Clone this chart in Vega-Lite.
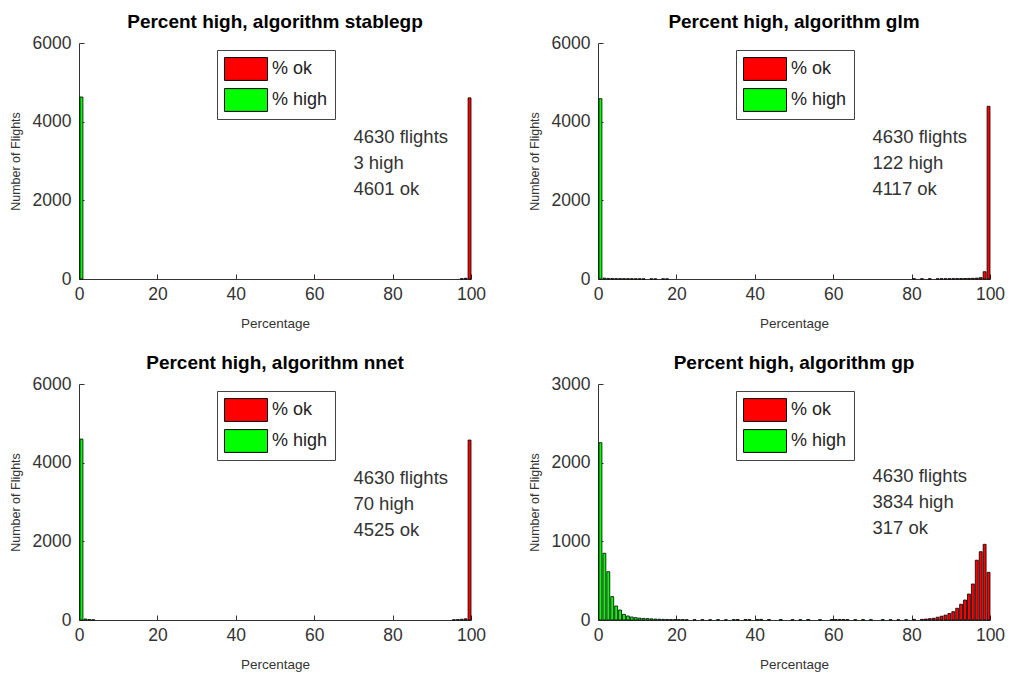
{
  "$schema": "https://vega.github.io/schema/vega-lite/v6.json",
  "background": "white",
  "padding": {"left": 9, "top": 13, "right": 10, "bottom": 5},
  "datasets": {
    "hist": [
      {"a": "stablegp", "s": "% high", "bin": 0, "n": 4627},
      {"a": "stablegp", "s": "% ok", "bin": 97, "n": 7},
      {"a": "stablegp", "s": "% ok", "bin": 98, "n": 18},
      {"a": "stablegp", "s": "% ok", "bin": 99, "n": 4605},

      {"a": "glm", "s": "% high", "bin": 0, "n": 4585},
      {"a": "glm", "s": "% high", "bin": 1, "n": 22},
      {"a": "glm", "s": "% high", "bin": 2, "n": 14},
      {"a": "glm", "s": "% high", "bin": 3, "n": 11},
      {"a": "glm", "s": "% high", "bin": 4, "n": 9},
      {"a": "glm", "s": "% high", "bin": 5, "n": 8},
      {"a": "glm", "s": "% high", "bin": 6, "n": 7},
      {"a": "glm", "s": "% high", "bin": 7, "n": 6},
      {"a": "glm", "s": "% high", "bin": 8, "n": 6},
      {"a": "glm", "s": "% high", "bin": 9, "n": 5},
      {"a": "glm", "s": "% high", "bin": 10, "n": 5},
      {"a": "glm", "s": "% high", "bin": 11, "n": 4},
      {"a": "glm", "s": "% high", "bin": 13, "n": 4},
      {"a": "glm", "s": "% high", "bin": 14, "n": 3},
      {"a": "glm", "s": "% high", "bin": 16, "n": 4},
      {"a": "glm", "s": "% high", "bin": 17, "n": 3},
      {"a": "glm", "s": "% ok", "bin": 80, "n": 6},
      {"a": "glm", "s": "% ok", "bin": 82, "n": 5},
      {"a": "glm", "s": "% ok", "bin": 84, "n": 6},
      {"a": "glm", "s": "% ok", "bin": 86, "n": 5},
      {"a": "glm", "s": "% ok", "bin": 87, "n": 8},
      {"a": "glm", "s": "% ok", "bin": 88, "n": 7},
      {"a": "glm", "s": "% ok", "bin": 89, "n": 8},
      {"a": "glm", "s": "% ok", "bin": 90, "n": 9},
      {"a": "glm", "s": "% ok", "bin": 91, "n": 10},
      {"a": "glm", "s": "% ok", "bin": 92, "n": 11},
      {"a": "glm", "s": "% ok", "bin": 93, "n": 12},
      {"a": "glm", "s": "% ok", "bin": 94, "n": 14},
      {"a": "glm", "s": "% ok", "bin": 95, "n": 17},
      {"a": "glm", "s": "% ok", "bin": 96, "n": 22},
      {"a": "glm", "s": "% ok", "bin": 97, "n": 35},
      {"a": "glm", "s": "% ok", "bin": 98, "n": 185},
      {"a": "glm", "s": "% ok", "bin": 99, "n": 4390},

      {"a": "nnet", "s": "% high", "bin": 0, "n": 4600},
      {"a": "nnet", "s": "% high", "bin": 1, "n": 25},
      {"a": "nnet", "s": "% high", "bin": 2, "n": 12},
      {"a": "nnet", "s": "% high", "bin": 3, "n": 6},
      {"a": "nnet", "s": "% ok", "bin": 95, "n": 6},
      {"a": "nnet", "s": "% ok", "bin": 96, "n": 10},
      {"a": "nnet", "s": "% ok", "bin": 97, "n": 18},
      {"a": "nnet", "s": "% ok", "bin": 98, "n": 30},
      {"a": "nnet", "s": "% ok", "bin": 99, "n": 4575},

      {"a": "gp", "s": "% high", "bin": 0, "n": 2254},
      {"a": "gp", "s": "% high", "bin": 1, "n": 848},
      {"a": "gp", "s": "% high", "bin": 2, "n": 614},
      {"a": "gp", "s": "% high", "bin": 3, "n": 297},
      {"a": "gp", "s": "% high", "bin": 4, "n": 178},
      {"a": "gp", "s": "% high", "bin": 5, "n": 127},
      {"a": "gp", "s": "% high", "bin": 6, "n": 72},
      {"a": "gp", "s": "% high", "bin": 7, "n": 51},
      {"a": "gp", "s": "% high", "bin": 8, "n": 38},
      {"a": "gp", "s": "% high", "bin": 9, "n": 30},
      {"a": "gp", "s": "% high", "bin": 10, "n": 24},
      {"a": "gp", "s": "% high", "bin": 11, "n": 20},
      {"a": "gp", "s": "% high", "bin": 12, "n": 18},
      {"a": "gp", "s": "% high", "bin": 13, "n": 15},
      {"a": "gp", "s": "% high", "bin": 14, "n": 12},
      {"a": "gp", "s": "% high", "bin": 15, "n": 10},
      {"a": "gp", "s": "% high", "bin": 16, "n": 8},
      {"a": "gp", "s": "% high", "bin": 17, "n": 7},
      {"a": "gp", "s": "% high", "bin": 18, "n": 6},
      {"a": "gp", "s": "% high", "bin": 19, "n": 5},
      {"a": "gp", "s": "% high", "bin": 20, "n": 5},
      {"a": "gp", "s": "% high", "bin": 21, "n": 5},
      {"a": "gp", "s": "% high", "bin": 22, "n": 4},
      {"a": "gp", "s": "% high", "bin": 24, "n": 4},
      {"a": "gp", "s": "% high", "bin": 26, "n": 4},
      {"a": "gp", "s": "% high", "bin": 28, "n": 3},
      {"a": "gp", "s": "% high", "bin": 30, "n": 4},
      {"a": "gp", "s": "% high", "bin": 32, "n": 3},
      {"a": "gp", "s": "% high", "bin": 34, "n": 5},
      {"a": "gp", "s": "% high", "bin": 35, "n": 6},
      {"a": "gp", "s": "% high", "bin": 37, "n": 7},
      {"a": "gp", "s": "% high", "bin": 38, "n": 5},
      {"a": "gp", "s": "% high", "bin": 40, "n": 6},
      {"a": "gp", "s": "% high", "bin": 41, "n": 8},
      {"a": "gp", "s": "% high", "bin": 43, "n": 5},
      {"a": "gp", "s": "% high", "bin": 46, "n": 6},
      {"a": "gp", "s": "% high", "bin": 49, "n": 4},
      {"a": "gp", "s": "% high", "bin": 51, "n": 4},
      {"a": "gp", "s": "% high", "bin": 53, "n": 6},
      {"a": "gp", "s": "% high", "bin": 56, "n": 4},
      {"a": "gp", "s": "% high", "bin": 59, "n": 5},
      {"a": "gp", "s": "% high", "bin": 60, "n": 6},
      {"a": "gp", "s": "% high", "bin": 61, "n": 7},
      {"a": "gp", "s": "% high", "bin": 62, "n": 6},
      {"a": "gp", "s": "% high", "bin": 63, "n": 5},
      {"a": "gp", "s": "% high", "bin": 65, "n": 4},
      {"a": "gp", "s": "% high", "bin": 67, "n": 5},
      {"a": "gp", "s": "% high", "bin": 69, "n": 4},
      {"a": "gp", "s": "% high", "bin": 72, "n": 5},
      {"a": "gp", "s": "% high", "bin": 74, "n": 4},
      {"a": "gp", "s": "% high", "bin": 76, "n": 3},
      {"a": "gp", "s": "% high", "bin": 78, "n": 4},
      {"a": "gp", "s": "% ok", "bin": 80, "n": 8},
      {"a": "gp", "s": "% ok", "bin": 82, "n": 8},
      {"a": "gp", "s": "% ok", "bin": 83, "n": 12},
      {"a": "gp", "s": "% ok", "bin": 84, "n": 17},
      {"a": "gp", "s": "% ok", "bin": 85, "n": 22},
      {"a": "gp", "s": "% ok", "bin": 86, "n": 35},
      {"a": "gp", "s": "% ok", "bin": 87, "n": 48},
      {"a": "gp", "s": "% ok", "bin": 88, "n": 62},
      {"a": "gp", "s": "% ok", "bin": 89, "n": 82},
      {"a": "gp", "s": "% ok", "bin": 90, "n": 106},
      {"a": "gp", "s": "% ok", "bin": 91, "n": 149},
      {"a": "gp", "s": "% ok", "bin": 92, "n": 200},
      {"a": "gp", "s": "% ok", "bin": 93, "n": 254},
      {"a": "gp", "s": "% ok", "bin": 94, "n": 330},
      {"a": "gp", "s": "% ok", "bin": 95, "n": 458},
      {"a": "gp", "s": "% ok", "bin": 96, "n": 760},
      {"a": "gp", "s": "% ok", "bin": 97, "n": 868},
      {"a": "gp", "s": "% ok", "bin": 98, "n": 962},
      {"a": "gp", "s": "% ok", "bin": 99, "n": 606}
    ]
  },
  "columns": 2,
  "spacing": {"row": 105, "column": 127},
  "bounds": "flush",
  "concat": [
    {
      "width": 392, "height": 236,
      "title": "Percent high, algorithm stablegp",
      "layer": [
        {
          "data": {"name": "hist"},
          "transform": [{"filter": "datum.a === 'stablegp'"}],
          "mark": {"type": "bar", "stroke": "black", "strokeWidth": 0.8, "opacity": 1},
          "encoding": {
            "x": {"field": "bin", "type": "quantitative", "bin": {"binned": true, "step": 1}, "scale": {"domain": [0, 100], "nice": false}, "axis": {"values": [0, 20, 40, 60, 80, 100], "format": "d"}, "title": "Percentage"},
            "y": {"field": "n", "type": "quantitative", "stack": null, "scale": {"domain": [0, 6000], "nice": false}, "axis": {"values": [0, 2000, 4000, 6000], "format": "d"}, "title": "Number of Flights"},
            "color": {"field": "s", "type": "nominal", "scale": {"domain": ["% ok", "% high"], "range": ["#ff0000", "#00ff00"]}}
          }
        },
        {
          "data": {"values": [{"t": ["4630 flights", "3 high", "4601 ok"]}]},
          "mark": {"type": "text", "align": "left", "baseline": "middle", "lineHeight": 26, "fontSize": 18.5, "font": "Liberation Sans", "color": "#333"},
          "encoding": {"x": {"datum": 70}, "y": {"datum": 3610}, "text": {"field": "t"}}
        }
      ]
    },
    {
      "width": 392, "height": 236,
      "title": "Percent high, algorithm glm",
      "layer": [
        {
          "data": {"name": "hist"},
          "transform": [{"filter": "datum.a === 'glm'"}],
          "mark": {"type": "bar", "stroke": "black", "strokeWidth": 0.8, "opacity": 1},
          "encoding": {
            "x": {"field": "bin", "type": "quantitative", "bin": {"binned": true, "step": 1}, "scale": {"domain": [0, 100], "nice": false}, "axis": {"values": [0, 20, 40, 60, 80, 100], "format": "d"}, "title": "Percentage"},
            "y": {"field": "n", "type": "quantitative", "stack": null, "scale": {"domain": [0, 6000], "nice": false}, "axis": {"values": [0, 2000, 4000, 6000], "format": "d"}, "title": "Number of Flights"},
            "color": {"field": "s", "type": "nominal", "scale": {"domain": ["% ok", "% high"], "range": ["#ff0000", "#00ff00"]}}
          }
        },
        {
          "data": {"values": [{"t": ["4630 flights", "122 high", "4117 ok"]}]},
          "mark": {"type": "text", "align": "left", "baseline": "middle", "lineHeight": 26, "fontSize": 18.5, "font": "Liberation Sans", "color": "#333"},
          "encoding": {"x": {"datum": 70}, "y": {"datum": 3610}, "text": {"field": "t"}}
        }
      ]
    },
    {
      "width": 392, "height": 236,
      "title": "Percent high, algorithm nnet",
      "layer": [
        {
          "data": {"name": "hist"},
          "transform": [{"filter": "datum.a === 'nnet'"}],
          "mark": {"type": "bar", "stroke": "black", "strokeWidth": 0.8, "opacity": 1},
          "encoding": {
            "x": {"field": "bin", "type": "quantitative", "bin": {"binned": true, "step": 1}, "scale": {"domain": [0, 100], "nice": false}, "axis": {"values": [0, 20, 40, 60, 80, 100], "format": "d"}, "title": "Percentage"},
            "y": {"field": "n", "type": "quantitative", "stack": null, "scale": {"domain": [0, 6000], "nice": false}, "axis": {"values": [0, 2000, 4000, 6000], "format": "d"}, "title": "Number of Flights"},
            "color": {"field": "s", "type": "nominal", "scale": {"domain": ["% ok", "% high"], "range": ["#ff0000", "#00ff00"]}}
          }
        },
        {
          "data": {"values": [{"t": ["4630 flights", "70 high", "4525 ok"]}]},
          "mark": {"type": "text", "align": "left", "baseline": "middle", "lineHeight": 26, "fontSize": 18.5, "font": "Liberation Sans", "color": "#333"},
          "encoding": {"x": {"datum": 70}, "y": {"datum": 3610}, "text": {"field": "t"}}
        }
      ]
    },
    {
      "width": 392, "height": 236,
      "title": "Percent high, algorithm gp",
      "layer": [
        {
          "data": {"name": "hist"},
          "transform": [{"filter": "datum.a === 'gp'"}],
          "mark": {"type": "bar", "stroke": "black", "strokeWidth": 0.8, "opacity": 1},
          "encoding": {
            "x": {"field": "bin", "type": "quantitative", "bin": {"binned": true, "step": 1}, "scale": {"domain": [0, 100], "nice": false}, "axis": {"values": [0, 20, 40, 60, 80, 100], "format": "d"}, "title": "Percentage"},
            "y": {"field": "n", "type": "quantitative", "stack": null, "scale": {"domain": [0, 3000], "nice": false}, "axis": {"values": [0, 1000, 2000, 3000], "format": "d"}, "title": "Number of Flights"},
            "color": {"field": "s", "type": "nominal", "scale": {"domain": ["% ok", "% high"], "range": ["#ff0000", "#00ff00"]}}
          }
        },
        {
          "data": {"values": [{"t": ["4630 flights", "3834 high", "317 ok"]}]},
          "mark": {"type": "text", "align": "left", "baseline": "middle", "lineHeight": 26, "fontSize": 18.5, "font": "Liberation Sans", "color": "#333"},
          "encoding": {"x": {"datum": 70}, "y": {"datum": 1830}, "text": {"field": "t"}}
        }
      ]
    }
  ],
  "resolve": {
    "scale": {"x": "independent", "y": "independent", "color": "independent"},
    "legend": {"color": "independent"}
  },
  "config": {
    "view": {"stroke": null},
    "font": "Liberation Sans",
    "title": {"font": "Liberation Sans", "fontSize": 19, "fontWeight": "bold", "color": "#000", "anchor": "middle", "offset": 2},
    "axis": {
      "grid": false,
      "domainColor": "#333", "domainWidth": 1,
      "tickColor": "#333", "tickWidth": 1, "tickSize": -5,
      "labelFont": "Liberation Sans", "labelFontSize": 17.5, "labelColor": "#333",
      "labelFlush": false, "labelOverlap": false,
      "titleFont": "Liberation Sans", "titleFontWeight": "normal", "titleColor": "#333"
    },
    "axisX": {"labelPadding": 11, "titlePadding": 14, "titleFontSize": 13.5},
    "axisY": {"labelPadding": 13, "titlePadding": 10, "titleFontSize": 12.5},
    "legend": {
      "orient": "none", "legendX": 138, "legendY": 7, "title": null,
      "symbolType": "M-1,-0.53H1V0.53H-1Z", "symbolSize": 1849,
      "symbolStrokeColor": "black", "symbolStrokeWidth": 1, "symbolOpacity": 1,
      "clipHeight": 24, "rowPadding": 7,
      "labelFont": "Liberation Sans", "labelFontSize": 18, "labelColor": "#222", "labelOffset": 4,
      "padding": 7, "strokeColor": "#444", "fillColor": "white"
    }
  }
}
